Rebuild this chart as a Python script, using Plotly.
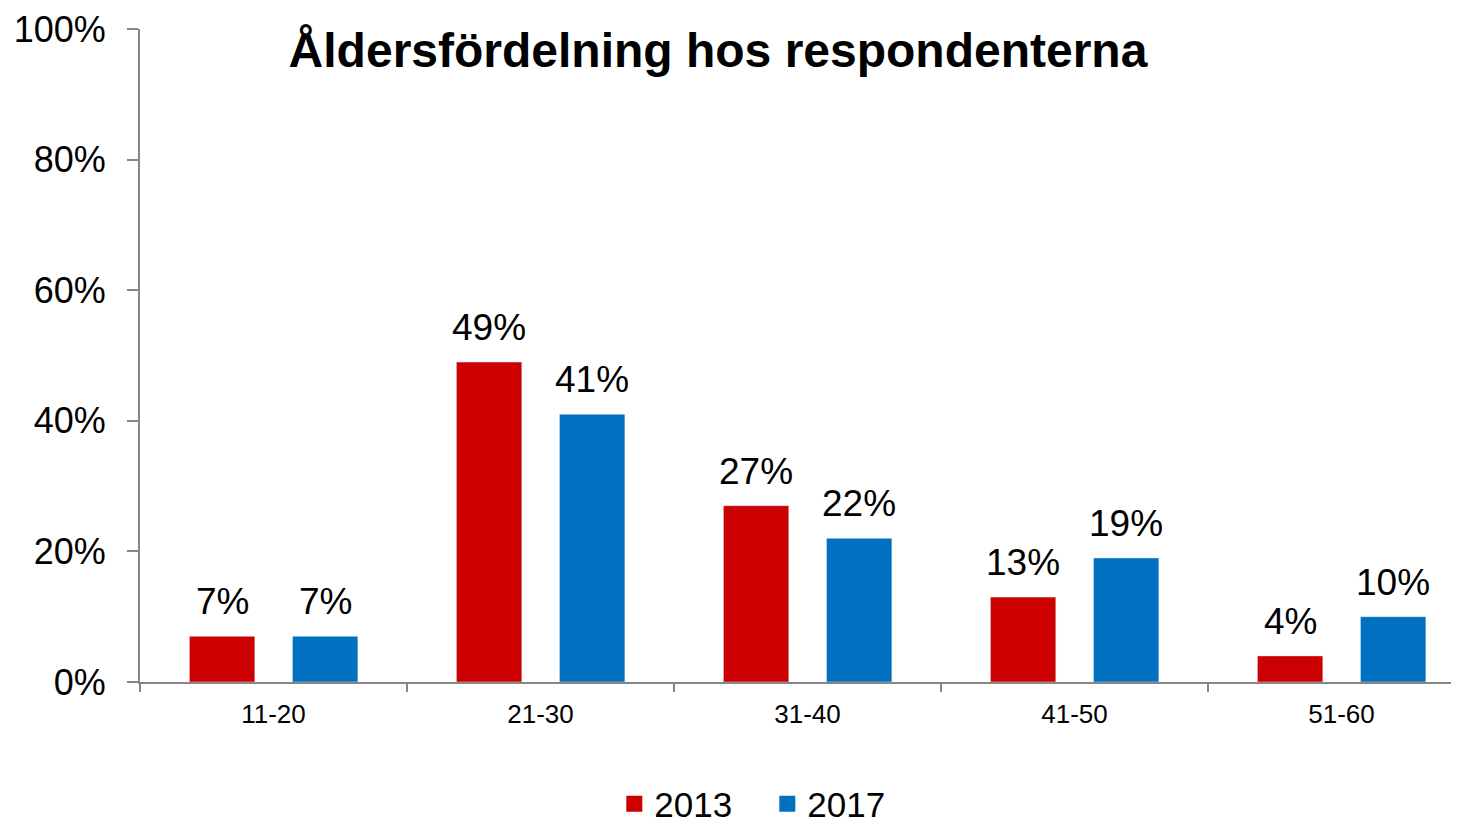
import plotly.graph_objects as go

age_groups = ["11-20", "21-30", "31-40", "41-50", "51-60"]
share_2013 = [0.07, 0.49, 0.27, 0.13, 0.04]
share_2017 = [0.07, 0.41, 0.22, 0.19, 0.10]

red = "#CC0000"
blue = "#0070C0"
axis_grey = "#868686"
font_family = "Liberation Sans, Arial, sans-serif"

# page body has an 8px margin, so the figure is shifted by that amount;
# the plot runs past the right edge of the window like in the original
W, H = 1470, 817
M_L, M_T, M_B = 132, 21, 143
unit_px = 267.0
x_range = [-0.5, -0.5 + (W - M_L) / unit_px]
bar_w = 0.245

fig = go.Figure()

for name, vals, color, off in [
    ("2013", share_2013, red, -0.315),
    ("2017", share_2017, blue, 0.071),
]:
    fig.add_trace(
        go.Bar(
            x=age_groups,
            y=vals,
            name=name,
            marker_color=color,
            width=bar_w,
            offset=off,
            showlegend=False,
        )
    )
    # value labels above each bar
    for cat, v in zip(age_groups, vals):
        fig.add_annotation(
            x=cat,
            y=v,
            text=f"{v:.0%}",
            showarrow=False,
            xanchor="center",
            yanchor="bottom",
            xshift=(off + bar_w / 2) * unit_px,
            yshift=12,
            font=dict(size=37, color="black", family=font_family),
        )
    # legend entry with a larger square symbol
    fig.add_trace(
        go.Scatter(
            x=[None],
            y=[None],
            mode="markers",
            name=name,
            marker=dict(symbol="square", size=16, color=color),
        )
    )

fig.update_layout(
    width=W,
    height=H,
    plot_bgcolor="white",
    paper_bgcolor="white",
    font=dict(family=font_family, color="black"),
    margin=dict(l=M_L, r=0, t=M_T, b=M_B),
    barmode="group",
    title=dict(
        text="<b>Åldersfördelning hos respondenterna</b>",
        font=dict(size=48, family=font_family, color="black"),
        x=710 / W,
        xanchor="center",
        y=1 - 42 / H,
        yanchor="middle",
    ),
    legend=dict(
        orientation="h",
        xref="container",
        yref="container",
        x=(M_L + 0.4756 * 1319) / W,
        xanchor="center",
        y=1 - 796 / H,
        yanchor="middle",
        font=dict(size=35),
        entrywidth=108,
        tracegroupgap=0,
    ),
)
fig.update_xaxes(
    type="category",
    range=x_range,
    showline=True,
    linecolor=axis_grey,
    linewidth=2,
    ticks="outside",
    tickson="boundaries",
    ticklen=8,
    tickwidth=2,
    tickcolor=axis_grey,
    tickfont=dict(size=26),
    ticklabelstandoff=8,
    showgrid=False,
)
fig.update_yaxes(
    range=[0, 1],
    tickvals=[0, 0.2, 0.4, 0.6, 0.8, 1.0],
    tickformat=".0%",
    showline=True,
    linecolor=axis_grey,
    linewidth=2,
    ticks="outside",
    ticklen=11,
    tickwidth=2,
    tickcolor=axis_grey,
    tickfont=dict(size=36),
    ticklabelstandoff=14,
    showgrid=False,
    zeroline=False,
)

fig.write_html("out.html")
